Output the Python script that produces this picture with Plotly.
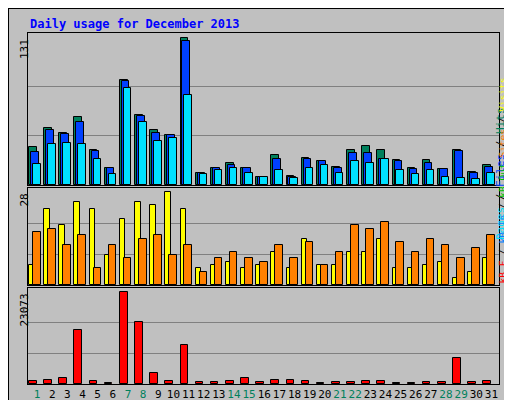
import plotly.graph_objects as go
from plotly.subplots import make_subplots

days = list(range(1, 32))
hits = [34, 51, 46, 60, 31, 15, 93, 62, 49, 44, 131, 11, 15, 20, 15, 7,
        27, 8, 24, 21, 16, 31, 35, 31, 22, 15, 22, 14, 31, 12, 18]
files = [29, 49, 45, 56, 30, 15, 92, 61, 46, 44, 128, 11, 15, 18, 15, 7,
         23, 7, 23, 21, 15, 28, 28, 23, 21, 14, 20, 14, 30, 11, 16]
pages = [19, 36, 37, 36, 23, 10, 86, 56, 39, 42, 80, 10, 13, 15, 11, 7,
         13, 6, 15, 18, 11, 21, 20, 23, 13, 10, 13, 7, 6, 5, 11]
visits = [6, 23, 18, 25, 23, 9, 20, 25, 24, 28, 23, 5, 6, 7, 5, 6,
          10, 5, 14, 6, 6, 10, 10, 14, 5, 5, 6, 7, 2, 4, 8]
sites = [16, 17, 12, 15, 5, 12, 8, 14, 15, 9, 12, 4, 8, 10, 8, 7,
         12, 8, 13, 6, 10, 18, 17, 19, 13, 10, 14, 12, 8, 11, 15]
kbytes = [842, 1095, 1600, 13472, 842, 337, 23073, 15493, 2863, 842, 9683, 590,
          590, 842, 1600, 590, 1095, 1095, 842, 337, 590, 590, 842, 842, 337,
          337, 590, 590, 6400, 590, 842]
weekend = [1, 7, 8, 14, 15, 21, 22, 28, 29]
ticktext = ['<span style="color:#00805c">%d</span>' % d if d in weekend else str(d) for d in days]

BG = "#c0c0c0"
mono = "DejaVu Sans Mono"


def py(px):
    return 1 - px / 400


fig = make_subplots(rows=3, cols=1)
line = dict(color="black", width=1)

def bar(y, color, offset, width, row):
    fig.add_trace(go.Bar(x=days, y=y, marker=dict(color=color, line=line),
                         offset=offset, width=width, showlegend=False), row=row, col=1)

bar(hits, "#00805c", -0.53, 0.5, 1)
bar(files, "#0040ff", -0.40, 0.5, 1)
bar(pages, "#00e0ff", -0.27, 0.5, 1)
bar(visits, "#ffff00", -0.53, 0.36, 2)
bar(sites, "#ff8000", -0.27, 0.5, 2)
bar(kbytes, "#ff0000", -0.53, 0.5, 3)

panels = [(25, 177, max(hits), 152 / 147.4), (180, 277, max(visits), 96 / 92), (280, 376, max(kbytes), 95.4 / 91.4)]
for i, (top, bot, m, f) in enumerate(panels, start=1):
    fig.update_yaxes(row=i, col=1, range=[0, m * f], tickvals=[m / 3, 2 * m / 3],
                     showticklabels=False, showgrid=True, gridcolor="#808080", gridwidth=1,
                     domain=[py(bot), py(top)], showline=True, mirror=True,
                     linecolor="black", linewidth=1, zeroline=False, ticks="")
    fig.update_xaxes(row=i, col=1, range=[0.4, 31.5], domain=[20 / 512, 491 / 512],
                     showline=True, mirror=True, linecolor="black", linewidth=1,
                     showgrid=False, zeroline=False, ticks="", tickangle=0,
                     showticklabels=(i == 3), tickvals=days, ticktext=ticktext,
                     tickfont=dict(family=mono, size=11, color="black"))
    fig.add_annotation(x=16 / 512, y=py(top + 4), xref="paper", yref="paper", text=str(m),
                       textangle=-90, showarrow=False, xanchor="center", yanchor="top",
                       font=dict(family=mono, size=11, color="black"))

fig.add_annotation(x=501 / 512, y=py(97), xref="paper", yref="paper",
                   text='<span style="color:#00e0ff">Pages</span> / <span style="color:#0040ff">Files</span> / <span style="color:#00805c">Hits</span>',
                   textangle=-90, showarrow=False, font=dict(family=mono, size=11, color="black"))
fig.add_annotation(x=501 / 512, y=py(278), xref="paper", yref="paper",
                   text='<span style="color:#ff0000">kB F</span> / <span style="color:#0080ff">kB In</span> / '
                        '<span style="color:#00c000">kB Out</span> <span style="color:#ff8000">Sites</span> / '
                        '<span style="color:#ffff00">Visits</span>',
                   textangle=-90, showarrow=False, font=dict(family=mono, size=9.5, color="black"))

fig.add_annotation(x=20 / 512, y=py(16), xref="paper", yref="paper",
                   text="<b>Daily usage for December 2013</b>", showarrow=False,
                   xanchor="left", yanchor="middle", font=dict(family=mono, size=12, color="#0000ff"))

fig.add_shape(type="rect", xref="paper", yref="paper", x0=0, x1=1, y0=0, y1=1,
              line=dict(color="black", width=2))
fig.add_shape(type="line", xref="paper", yref="paper", x0=507 / 512, x1=507 / 512, y0=py(396), y1=py(2),
              line=dict(color="#808080", width=5))
fig.add_shape(type="line", xref="paper", yref="paper", x0=2 / 512, x1=507 / 512, y0=py(396), y1=py(396),
              line=dict(color="#808080", width=5))

fig.update_layout(width=512, height=400, margin=dict(l=0, r=0, t=0, b=0),
                  paper_bgcolor=BG, plot_bgcolor=BG, barmode="overlay", bargap=0)
fig.write_html("out.html")
